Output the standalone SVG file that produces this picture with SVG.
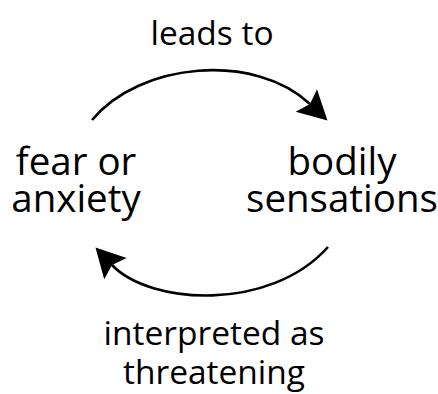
<svg xmlns="http://www.w3.org/2000/svg" width="438" height="394" viewBox="0 0 438 394">
<style>
.t{font-family:"Open Sans","Noto Sans","Liberation Sans",sans-serif;fill:#000;text-anchor:middle}
.e{font-size:33.5px}
.n{font-size:38.5px}
.c{fill:none;stroke:#000;stroke-width:2.6}
</style>
<defs>
<marker id="ah" markerUnits="userSpaceOnUse" markerWidth="40" markerHeight="40" viewBox="-10 -20 40 40" refX="0" refY="0" orient="auto">
<path d="M24,0 L-5,-15.5 L0,0 L-5,15.5 Z" fill="#000"/>
</marker>
</defs>
<rect width="438" height="394" fill="#fff"/>
<g id="connectors">
<path class="c" d="M92,120 C140,62 255,52 310,104" marker-end="url(#ah)"/>
<path class="c" d="M328,247 C270,312 150,305 112,265" marker-end="url(#ah)"/>
</g>
<g id="label-leads"><text class="t e" x="212" y="45">leads to</text></g>
<g id="node-fear"><text class="t n" x="76" y="175">fear or</text><text class="t n" x="76" y="212">anxiety</text></g>
<g id="node-bodily"><text class="t n" x="342" y="175">bodily</text><text class="t n" x="342" y="212">sensations</text></g>
<g id="label-interpreted"><text class="t e" x="214" y="345">interpreted as</text><text class="t e" x="214" y="384">threatening</text></g>
</svg>
